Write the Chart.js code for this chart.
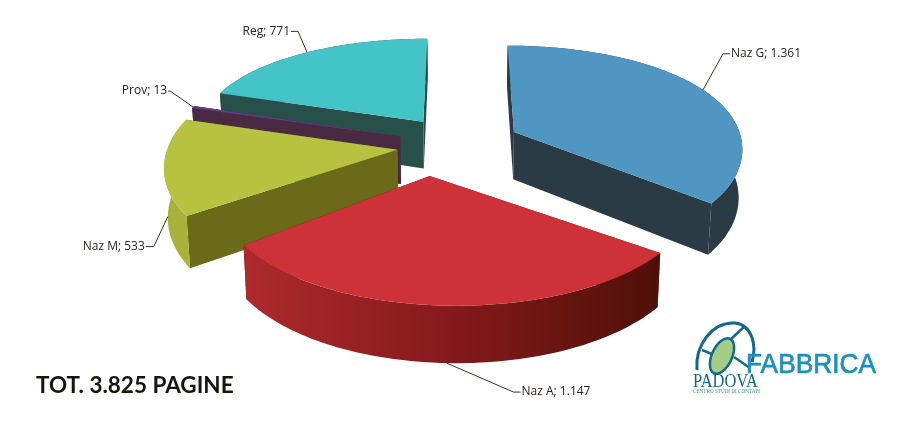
<!DOCTYPE html>
<html>
<head>
<meta charset="utf-8">
<title>Pagine</title>
<script src="https://cdn.jsdelivr.net/npm/chart.js@4"></script>
<style>
  html, body { margin: 0; padding: 0; background: #fff; }
  #wrap { position: relative; width: 914px; height: 427px; overflow: hidden; }
  canvas { position: absolute; left: 0; top: 0; }
  #logo { position: absolute; left: 0; top: 0; }
</style>
</head>
<body>
<div id="wrap">
  <canvas id="pieChart" width="914" height="427"></canvas>
  <svg id="logo" width="914" height="427">
    <path d="M697 370 C695 345 712 322 735 323 C752 325 757 345 752 362" fill="none" stroke="#14688a" stroke-width="3"/>
    <ellipse cx="722" cy="356" rx="10" ry="19" transform="rotate(25 722 356)" fill="#a5cd85" stroke="#14688a" stroke-width="2.5"/>
    <path d="M731 339 L745 326 M734 357 L750 368 M702 350 L712 354" stroke="#14688a" stroke-width="2.5"/>
    <text x="746" y="373" font-family="Liberation Sans" font-size="28" textLength="130" lengthAdjust="spacingAndGlyphs" fill="#1c90bf" stroke="#1c90bf" stroke-width="0.7">FABBRICA</text>
    <text x="693" y="387" font-family="Liberation Serif" font-size="19" textLength="65" lengthAdjust="spacingAndGlyphs" fill="#14688a">PADOVA</text>
    <text x="693" y="393" font-family="Liberation Serif" font-size="5.5" textLength="67" lengthAdjust="spacingAndGlyphs" fill="#3f8aa8">CENTRO STUDI DI CONTAPI</text>
  </svg>
</div>
<script>
const categories = ["Naz G", "Naz A", "Naz M", "Prov", "Reg"];
const pageCounts = [1361, 1147, 533, 13, 771];

const topColors = ["#4f96c3", "#cc3238", "#b7c240", "#5d3f86", "#45c4c8"];
const sideColors = ["#2a3b45", "#7a1a18", "#6b6a18", "#4a2a42", "#27504a"];
const rimColors = ["#2a3b45", null, "#a9b13a", "#4a2a42", "#27504a"];

// label leader: elbow and end, relative to the anchor on the rim
const leaders = [
  { dx: 20, dy: -36, end: 7, wall: 0 },
  { dx: 67, dy: 29, end: 7, wall: 1 },
  { dx: -14, dy: 30, end: -8, wall: 1 },
  { dx: -23, dy: -16, end: -2, wall: 0 },
  { dx: -9, dy: -21, end: -7, wall: 0 },
];
const paintOrder = [4, 3, 2, 0, 1];

const fmt = (n) => String(n).replace(/\B(?=(\d{3})+$)/g, ".");

// fake 3d view of the flat pie, far side shrinks faster than the near side grows
const view = { cx: 459, cy: 145, radius: 229, height: 112, px: 0.13, pyBack: 0.233, pyFront: 0.09, depth: 48 };

function project(u, f, low) {
  const sx = 1 / (1 - view.px * f);
  const py = f < 0 ? view.pyBack : view.pyFront;
  let x = view.cx + u * view.radius * sx;
  let y = view.cy + (view.height * f) / (1 - py * f);
  if (low) {
    y += view.depth * sx;
    x = view.cx + (x - view.cx) * 0.987;
  }
  return { x, y };
}

function slicePoints(arc, low, apexShift) {
  const off = (arc.options.offset || 0) / 4 / arc.outerRadius;
  const mid = (arc.startAngle + arc.endAngle) / 2;
  const du = Math.cos(mid) * off;
  const df = Math.sin(mid) * off;
  const apex = project(du, df, low);
  apex.x += apexShift;
  const rim = [];
  const steps = Math.max(2, Math.ceil((arc.endAngle - arc.startAngle) * 40));
  for (let i = 0; i <= steps; i++) {
    const a = arc.startAngle + ((arc.endAngle - arc.startAngle) * i) / steps;
    rim.push(project(du + Math.cos(a), df + Math.sin(a), low));
  }
  return { apex, rim, anchorTop: project(du + Math.cos(mid), df + Math.sin(mid), false), anchorLow: project(du + Math.cos(mid), df + Math.sin(mid), true) };
}

function fillPoly(ctx, pts, color) {
  ctx.beginPath();
  pts.forEach((p, i) => (i ? ctx.lineTo(p.x, p.y) : ctx.moveTo(p.x, p.y)));
  ctx.closePath();
  ctx.fillStyle = color;
  ctx.fill();
}

const pie3d = {
  id: "pie3d",
  beforeDatasetsDraw(chart) {
    const ctx = chart.ctx;
    const arcs = chart.getDatasetMeta(0).data;
    const anchors = [];
    paintOrder.forEach((i) => {
      const shift = i === 1 ? -27 : 0;
      const top = slicePoints(arcs[i], false, shift);
      const low = slicePoints(arcs[i], true, shift);
      const first = top.rim[0];
      const last = top.rim[top.rim.length - 1];
      const lowFirst = low.rim[0];
      const lowLast = low.rim[low.rim.length - 1];
      fillPoly(ctx, [top.apex, first, lowFirst, low.apex], sideColors[i]);
      fillPoly(ctx, [top.apex, last, lowLast, low.apex], sideColors[i]);
      let rim = rimColors[i];
      if (!rim) {
        rim = ctx.createLinearGradient(last.x, 0, first.x, 0);
        rim.addColorStop(0, "#ad2a2d");
        rim.addColorStop(0.5, "#85191b");
        rim.addColorStop(1, "#4e1008");
      }
      fillPoly(ctx, top.rim.concat(low.rim.slice().reverse()), rim);
      fillPoly(ctx, [top.apex].concat(top.rim), topColors[i]);
      anchors[i] = leaders[i].wall ? top.anchorLow : top.anchorTop;
    });

    ctx.font = "12px 'Open Sans'";
    ctx.textBaseline = "middle";
    categories.forEach((name, i) => {
      const a = anchors[i];
      const l = leaders[i];
      const ex = a.x + l.dx;
      const ey = a.y + l.dy;
      ctx.beginPath();
      ctx.moveTo(a.x, a.y);
      ctx.lineTo(ex, ey);
      ctx.lineTo(ex + l.end, ey);
      ctx.strokeStyle = "#3b2f28";
      ctx.lineWidth = 1;
      ctx.stroke();
      ctx.fillStyle = "#2b2320";
      ctx.textAlign = l.end > 0 ? "left" : "right";
      ctx.fillText(name + "; " + fmt(pageCounts[i]), ex + l.end + (l.end > 0 ? 1 : -1), ey);
    });

    ctx.font = "bold 22.5px Lato";
    ctx.textAlign = "left";
    ctx.textBaseline = "alphabetic";
    ctx.fillStyle = "#1a120e";
    const total = pageCounts.reduce((s, v) => s + v, 0);
    ctx.fillText("TOT. " + fmt(total) + " PAGINE", 36, 393);
    return false;
  },
};

new Chart(document.getElementById("pieChart"), {
  type: "pie",
  data: {
    labels: categories,
    datasets: [
      {
        data: pageCounts,
        backgroundColor: topColors,
        borderWidth: 0,
        offset: 150,
      },
    ],
  },
  options: {
    responsive: false,
    animation: false,
    plugins: {
      legend: {
        display: false,
      },
      tooltip: {
        enabled: false,
      },
    },
  },
  plugins: [pie3d],
});
</script>
</body>
</html>
